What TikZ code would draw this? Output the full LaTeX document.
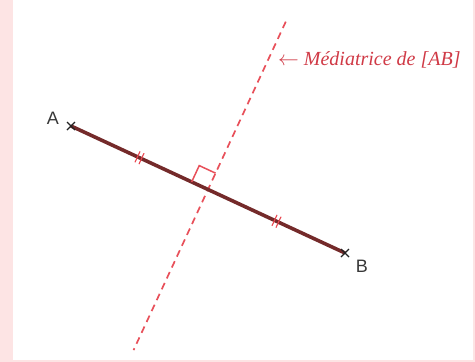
\documentclass[tikz,border=0pt]{standalone}
\usepackage{fontspec}
\setmainfont{Liberation Serif}
\newfontfamily\labelfont{Liberation Sans}
\usetikzlibrary{calc}
\definecolor{pinkbg}{HTML}{FDE4E4}
\definecolor{segcol}{HTML}{742A2A}
\definecolor{medcol}{HTML}{E8505A}
\definecolor{txtcol}{HTML}{D03A46}
\definecolor{ptcol}{HTML}{222222}
\tikzset{
  segline/.style={draw=segcol, line width=3.6pt},
  medline/.style={draw=medcol, line width=1.7pt, dash pattern=on 7pt off 5pt},
  tickmark/.style={draw=medcol!90!red, line width=1.1pt},
  rightmark/.style={draw=medcol, line width=1.5pt},
  crossmark/.style={draw=ptcol, line width=1.3pt},
  ptlabel/.style={font=\labelfont\fontsize{18}{18}\selectfont, text=ptcol!90!white, inner sep=0pt},
  medlabel/.style={font=\itshape\fontsize{20}{20}\selectfont, text=txtcol, inner sep=0pt, anchor=west}
}
\begin{document}
\begin{tikzpicture}[x=1pt,y=-1pt]
\useasboundingbox (0,0) rectangle (475,362);
\fill[pinkbg] (0,0) rectangle (475,362);
\fill[white] (13,0) rectangle (473,360);
% points
\coordinate (A) at (71,126);
\coordinate (B) at (345,253);
\coordinate (I) at ($(A)!0.5!(B)$);
\coordinate (Mtop) at ($(I)!185pt!90:(B)$);
\coordinate (Mbot) at ($(I)!177pt!-90:(B)$);
% mediatrice
\draw[medline] (Mtop) -- (Mbot);
% segment
\draw[segline] (A) -- (B);
% right angle mark
\coordinate (R1) at ($(I)!18pt!(A)$);
\coordinate (R2) at ($(I)!18pt!(Mtop)$);
\draw[rightmark] (R1) -- ($(R1)+(R2)-(I)$) -- (R2);
% tick marks
\coordinate (T1) at ($(A)!0.5!(I)$);
\coordinate (T2) at ($(I)!0.5!(B)$);
\foreach \t in {T1,T2}{
  \foreach \s in {-2.2,2.2}{
    \coordinate (c) at ($(\t)!\s pt!(B)$);
    \draw[tickmark] ($(c)!6pt!90:(B)$) -- ($(c)!6pt!-90:(B)$);
  }
}
% crosses
\draw[crossmark] ($(A)+(-4,-4)$) -- ($(A)+(4,4)$) ($(A)+(-4,4)$) -- ($(A)+(4,-4)$);
\draw[crossmark] ($(B)+(-4,-4)$) -- ($(B)+(4,4)$) ($(B)+(-4,4)$) -- ($(B)+(4,-4)$);
% labels
\node[ptlabel] (la) at (53,118) {A};
\node[ptlabel] (lb) at (362,266) {B};
\node[medlabel] (med) at (278,60) {$\leftarrow$ Médiatrice de [AB]};
\end{tikzpicture}
\end{document}
